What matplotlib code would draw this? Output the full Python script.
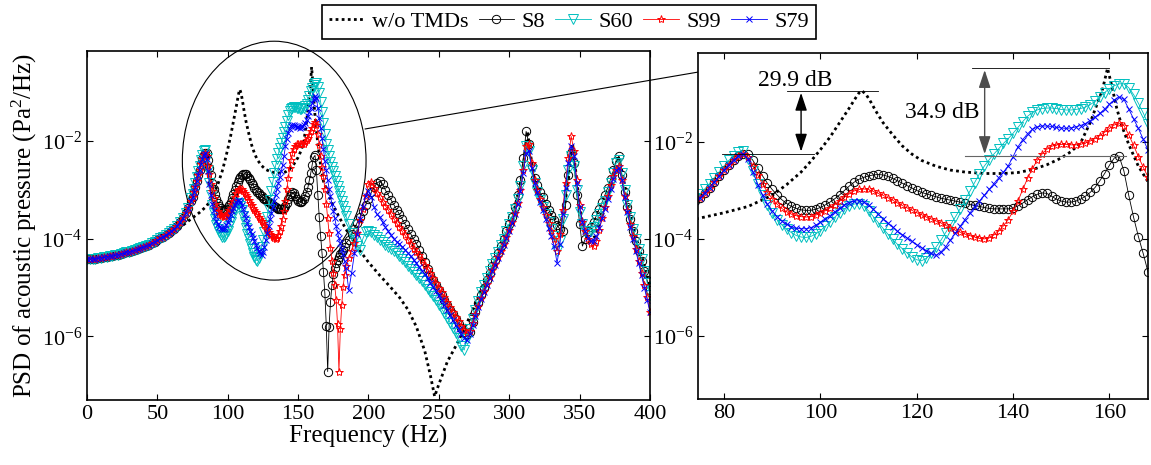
# PSD of acoustic pressure: full band (left) and zoom 75-168 Hz (right)
import numpy as np
import matplotlib.pyplot as plt
from matplotlib.patches import Ellipse
from matplotlib.ticker import NullLocator

plt.rcParams['font.family'] = ['Liberation Serif', 'DejaVu Serif']
plt.rcParams['mathtext.fontset'] = 'custom'
plt.rcParams['mathtext.rm'] = 'Liberation Serif'
plt.rcParams['mathtext.it'] = 'Liberation Serif:italic'

# frequency grid (Hz): coarse below 74 Hz, 1 Hz around the TMD band, 2 Hz above
freq = np.concatenate([np.arange(0, 74, 2), np.arange(74, 185), np.arange(186, 401, 2)])

# log10 of PSD
low_band = [-4.42, -4.42, -4.41, -4.41, -4.40, -4.39, -4.38, -4.37, -4.36, -4.35,
            -4.34, -4.33, -4.31, -4.30, -4.28, -4.27, -4.25, -4.23, -4.21, -4.19,
            -4.17, -4.15, -4.12, -4.09, -4.06, -4.03, -3.99, -3.96, -3.92, -3.88,
            -3.84, -3.79, -3.73, -3.66, -3.58, -3.48, -3.36]

s8_mid = [-3.22, -3.15, -3.05, -2.94, -2.82, -2.70, -2.58, -2.47, -2.37, -2.29,
          -2.24, -2.25, -2.38, -2.54, -2.70, -2.85, -2.98, -3.09, -3.19, -3.27,
          -3.33, -3.37, -3.40, -3.41, -3.41, -3.39, -3.35, -3.30, -3.24, -3.17,
          -3.09, -3.00, -2.91, -2.83, -2.77, -2.73, -2.70, -2.68, -2.67, -2.68,
          -2.71, -2.75, -2.80, -2.85, -2.90, -2.95, -3.00, -3.04, -3.07, -3.10,
          -3.13, -3.16, -3.18, -3.20, -3.22, -3.24, -3.26, -3.29, -3.31, -3.33,
          -3.35, -3.37, -3.38, -3.38, -3.38, -3.38, -3.36, -3.32, -3.26, -3.19,
          -3.13, -3.08, -3.05, -3.06, -3.12, -3.18, -3.22, -3.24, -3.24, -3.22,
          -3.18, -3.12, -3.04, -2.94, -2.80, -2.65, -2.48, -2.33, -2.29, -2.60,
          -3.10, -3.55, -3.95, -4.30, -4.68, -5.12, -5.78, -6.72, -5.80, -5.30,
          -4.95, -4.73, -4.60, -4.50, -4.43, -4.37, -4.32, -4.27, -4.22, -4.16,
          -4.09]
s8_high = [-4.02, -3.90, -3.79, -3.67, -3.55, -3.43, -3.30, -3.18, -3.05, -2.94,
           -2.86, -2.82, -2.88, -3.00, -3.10, -3.20, -3.30, -3.40, -3.50, -3.60,
           -3.70, -3.80, -3.90, -4.00, -4.10, -4.22, -4.35, -4.48, -4.62, -4.75,
           -4.85, -4.95, -5.05, -5.15, -5.25, -5.35, -5.45, -5.55, -5.65, -5.74,
           -5.82, -5.90, -5.96, -5.90, -5.70, -5.50, -5.32, -5.15, -5.00, -4.85,
           -4.70, -4.56, -4.44, -4.30, -4.15, -4.00, -3.85, -3.70, -3.55, -3.35,
           -3.10, -2.80, -2.35, -1.80, -2.05, -2.50, -2.75, -2.90, -3.05, -3.15,
           -3.28, -3.40, -3.52, -3.62, -3.72, -3.80, -3.85, -3.30, -2.70, -2.25,
           -2.45, -3.10, -3.70, -4.15, -4.00, -3.85, -3.75, -3.65, -3.52, -3.38,
           -3.25, -3.10, -2.95, -2.78, -2.60, -2.40, -2.30, -2.70, -3.05, -3.35,
           -3.60, -3.85, -4.05, -4.25, -4.45, -4.65, -4.85, -5.05]

s60_mid = [-3.16, -3.08, -2.97, -2.86, -2.74, -2.62, -2.50, -2.38, -2.28, -2.20,
           -2.19, -2.35, -2.60, -2.86, -3.10, -3.30, -3.47, -3.60, -3.71, -3.80,
           -3.87, -3.93, -3.96, -3.97, -3.95, -3.90, -3.83, -3.74, -3.65, -3.55,
           -3.46, -3.38, -3.32, -3.28, -3.27, -3.32, -3.42, -3.54, -3.66, -3.78,
           -3.90, -4.01, -4.11, -4.20, -4.29, -4.37, -4.43, -4.45, -4.40, -4.30,
           -4.17, -4.03, -3.87, -3.71, -3.55, -3.38, -3.20, -3.02, -2.84, -2.66,
           -2.50, -2.37, -2.25, -2.14, -2.03, -1.93, -1.82, -1.70, -1.58, -1.47,
           -1.39, -1.34, -1.31, -1.30, -1.30, -1.31, -1.33, -1.34, -1.34, -1.33,
           -1.31, -1.28, -1.23, -1.16, -1.07, -0.98, -0.90, -0.84, -0.80, -0.80,
           -0.88, -1.02, -1.20, -1.40, -1.62, -1.85, -2.06, -2.18, -2.30, -2.42,
           -2.52, -2.61, -2.71, -2.81, -2.91, -3.02, -3.12, -3.22, -3.33, -3.44,
           -3.54]
s60_high = [-3.70, -3.88, -4.02, -4.15, -4.22, -4.00, -3.86, -3.84, -3.87, -3.92,
            -3.97, -4.02, -4.07, -4.12, -4.17, -4.21, -4.25, -4.30, -4.36, -4.42,
            -4.48, -4.55, -4.62, -4.69, -4.75, -4.81, -4.87, -4.94, -5.02, -5.10,
            -5.18, -5.26, -5.35, -5.44, -5.53, -5.62, -5.72, -5.82, -5.93, -6.04,
            -6.20, -6.28, -6.05, -5.85, -5.65, -5.45, -5.27, -5.10, -4.95, -4.80,
            -4.66, -4.52, -4.40, -4.27, -4.13, -4.00, -3.85, -3.70, -3.55, -3.38,
            -3.18, -2.92, -2.50, -2.10, -2.20, -2.60, -2.85, -3.05, -3.20, -3.35,
            -3.50, -3.65, -3.80, -3.95, -4.25, -4.05, -3.60, -3.10, -2.60, -2.30,
            -2.50, -3.00, -3.45, -3.70, -3.85, -3.90, -3.85, -3.75, -3.62, -3.50,
            -3.37, -3.22, -3.05, -2.85, -2.65, -2.45, -2.38, -2.65, -3.00, -3.30,
            -3.55, -3.80, -4.00, -4.20, -4.42, -4.65, -4.90, -5.15]

s99_mid = [-3.22, -3.15, -3.05, -2.94, -2.82, -2.70, -2.58, -2.47, -2.37, -2.29,
           -2.24, -2.31, -2.50, -2.68, -2.87, -3.03, -3.17, -3.28, -3.37, -3.44,
           -3.49, -3.52, -3.54, -3.55, -3.54, -3.51, -3.47, -3.42, -3.36, -3.29,
           -3.22, -3.14, -3.07, -3.01, -2.98, -2.97, -2.98, -3.02, -3.06, -3.10,
           -3.15, -3.20, -3.26, -3.31, -3.36, -3.41, -3.46, -3.50, -3.55, -3.59,
           -3.63, -3.67, -3.72, -3.77, -3.82, -3.86, -3.90, -3.93, -3.96, -3.99,
           -4.00, -3.98, -3.92, -3.84, -3.73, -3.60, -3.43, -3.22, -2.98, -2.75,
           -2.55, -2.38, -2.25, -2.15, -2.09, -2.06, -2.05, -2.05, -2.06, -2.06,
           -2.05, -2.02, -1.98, -1.93, -1.87, -1.80, -1.72, -1.65, -1.61, -1.66,
           -1.85, -2.07, -2.30, -2.52, -2.72, -2.98, -3.28, -3.58, -3.88, -4.18,
           -4.45, -4.70, -4.95, -5.25, -5.75, -6.72, -5.85, -5.35, -4.98, -4.74,
           -4.56]
s99_high = [-4.40, -4.25, -4.08, -3.88, -3.62, -3.38, -3.12, -2.88, -2.83, -2.95,
            -3.07, -3.15, -3.24, -3.32, -3.41, -3.50, -3.59, -3.68, -3.76, -3.85,
            -3.93, -4.02, -4.11, -4.20, -4.27, -4.34, -4.43, -4.53, -4.62, -4.70,
            -4.80, -4.90, -5.00, -5.10, -5.20, -5.30, -5.40, -5.50, -5.60, -5.69,
            -5.78, -5.86, -5.93, -5.88, -5.72, -5.55, -5.38, -5.22, -5.07, -4.92,
            -4.78, -4.64, -4.51, -4.38, -4.24, -4.10, -3.96, -3.82, -3.66, -3.48,
            -3.26, -3.00, -2.60, -2.10, -2.05, -2.45, -2.80, -3.00, -3.18, -3.35,
            -3.52, -3.68, -3.85, -4.00, -4.25, -3.90, -3.40, -2.85, -2.35, -1.90,
            -2.20, -2.80, -3.30, -3.65, -3.85, -4.00, -4.10, -4.15, -4.05, -3.82,
            -3.58, -3.35, -3.12, -2.90, -2.72, -2.58, -2.50, -2.80, -3.12, -3.42,
            -3.70, -3.95, -4.20, -4.45, -4.70, -4.95, -5.20, -5.50]

s79_mid = [-3.22, -3.15, -3.05, -2.94, -2.82, -2.70, -2.58, -2.47, -2.37, -2.29,
           -2.24, -2.36, -2.62, -2.88, -3.10, -3.28, -3.42, -3.54, -3.63, -3.70,
           -3.75, -3.78, -3.79, -3.79, -3.77, -3.72, -3.66, -3.59, -3.52, -3.44,
           -3.37, -3.30, -3.25, -3.22, -3.21, -3.24, -3.30, -3.39, -3.49, -3.58,
           -3.67, -3.76, -3.84, -3.91, -3.98, -4.05, -4.12, -4.18, -4.24, -4.30,
           -4.34, -4.27, -4.16, -4.02, -3.88, -3.74, -3.60, -3.47, -3.34, -3.22,
           -3.10, -2.98, -2.86, -2.74, -2.62, -2.49, -2.30, -2.10, -1.95, -1.83,
           -1.74, -1.69, -1.67, -1.67, -1.68, -1.70, -1.71, -1.72, -1.71, -1.69,
           -1.66, -1.62, -1.56, -1.49, -1.41, -1.32, -1.22, -1.13, -1.07, -1.12,
           -1.32, -1.52, -1.72, -1.94, -2.17, -2.40, -2.60, -2.80, -2.97, -3.13,
           -3.28, -3.43, -3.58, -3.73, -3.87, -3.98, -4.09, -4.20, -4.32, -4.45,
           -4.60]
s79_high = [-5.05, -4.70, -4.30, -3.90, -3.60, -3.35, -3.12, -3.02, -3.15, -3.35,
            -3.50, -3.56, -3.66, -3.76, -3.85, -3.93, -4.00, -4.06, -4.10, -4.16,
            -4.22, -4.29, -4.36, -4.43, -4.50, -4.57, -4.65, -4.73, -4.81, -4.90,
            -4.98, -5.07, -5.16, -5.26, -5.36, -5.46, -5.56, -5.66, -5.76, -5.85,
            -5.95, -6.03, -6.08, -5.95, -5.77, -5.58, -5.40, -5.24, -5.09, -4.94,
            -4.80, -4.66, -4.53, -4.40, -4.26, -4.12, -3.98, -3.84, -3.68, -3.50,
            -3.28, -3.02, -2.65, -2.25, -2.20, -2.55, -2.85, -3.05, -3.25, -3.42,
            -3.60, -3.78, -3.95, -4.15, -4.50, -4.10, -3.50, -2.95, -2.45, -2.10,
            -2.30, -2.85, -3.35, -3.65, -3.85, -3.98, -4.05, -4.05, -3.95, -3.78,
            -3.58, -3.38, -3.18, -2.98, -2.78, -2.60, -2.55, -2.80, -3.15, -3.45,
            -3.75, -4.00, -4.25, -4.50, -4.75, -5.00, -5.25, -5.50]

# w/o TMDs: own grid (dotted line, no markers)
wo_freq = [0, 10, 20, 30, 40, 50, 55, 60, 65, 70, 75, 80, 85, 90, 93, 96, 98, 100,
           102, 104, 106, 107, 108, 108.6, 109.5, 110.5, 111.5, 113, 115, 117, 119,
           121, 124, 127, 130, 134, 138, 141, 144, 147, 150, 152, 154, 156, 157.5,
           158.5, 159.6, 160.5, 161.5, 162.5, 164, 166, 168, 171, 175, 180, 185,
           192, 200, 208, 215, 222, 228, 234, 240, 244, 247, 250, 253, 256, 262,
           268, 275, 280, 285, 291, 296, 300, 304, 308, 311, 313, 315, 318, 322,
           327, 332, 336, 339, 342, 344, 345, 347, 350, 353, 357, 361, 366, 371,
           375, 377.5, 380, 384, 390, 395, 400]
wo_log = [-4.42, -4.39, -4.34, -4.27, -4.18, -4.06, -3.98, -3.89, -3.79, -3.68,
          -3.57, -3.46, -3.33, -3.10, -2.88, -2.62, -2.40, -2.16, -1.90, -1.60,
          -1.30, -1.14, -0.99, -0.94, -1.02, -1.18, -1.36, -1.60, -1.85, -2.08,
          -2.25, -2.38, -2.50, -2.58, -2.62, -2.65, -2.65, -2.63, -2.57, -2.47,
          -2.33, -2.20, -2.02, -1.60, -1.20, -0.94, -0.48, -0.85, -1.30, -1.65,
          -2.05, -2.50, -2.82, -3.05, -3.33, -3.60, -3.85, -4.17, -4.48, -4.75,
          -4.97, -5.20, -5.45, -5.80, -6.30, -6.80, -7.23, -6.98, -6.75, -6.52,
          -6.20, -5.85, -5.40, -5.05, -4.75, -4.42, -4.08, -3.80, -3.35, -2.85,
          -2.30, -1.80, -2.25, -2.80, -3.25, -3.42, -3.58, -3.70, -3.40, -2.80,
          -2.25, -2.05, -2.55, -3.30, -3.85, -4.05, -3.95, -3.55, -3.05, -2.60,
          -2.32, -2.60, -3.20, -3.95, -4.45, -5.00]

wo = 10 ** np.array(wo_log)
s8 = 10 ** np.array(low_band + s8_mid + s8_high)
s60 = 10 ** np.array(low_band + s60_mid + s60_high)
s99 = 10 ** np.array(low_band + s99_mid + s99_high)
s79 = 10 ** np.array(low_band + s79_mid + s79_high)

series = [('S8', s8, 'k', 'o', 6.0),
          ('S60', s60, (0.0, 0.75, 0.75), 'v', 7.5),
          ('S99', s99, 'r', '*', 6.0),
          ('S79', s79, 'b', 'x', 4.5)]

fig = plt.figure(figsize=(11.51, 4.65), dpi=100)
ax1 = fig.add_axes([0.0756, 0.140, 0.4891, 0.750])
ax2 = fig.add_axes([0.6064, 0.142, 0.3910, 0.745])

handles = []
for ax in (ax1, ax2):
    h0, = ax.plot(wo_freq, wo, color='k', lw=2.0, ls=(0, (1, 1.2)), label='w/o TMDs')
    hs = [h0]
    for name, y, c, m, ms in series:
        h, = ax.plot(freq, y, color=c, lw=0.6, marker=m, ms=ms, mfc='none',
                     mec=c, mew=0.7, label=name)
        hs.append(h)
    if not handles:
        handles = hs
    ax.set_yscale('log')
    ax.set_ylim(5e-8, 0.7)
    ax.set_yticks([1e-6, 1e-4, 1e-2])
    ax.yaxis.set_minor_locator(NullLocator())
    ax.tick_params(direction='in', top=True, right=True, length=4, width=0.8,
                   labelsize=16)
    for sp in ax.spines.values():
        sp.set_linewidth(1.2)

ax1.set_xlim(0, 400)
ax1.set_xticks(np.arange(0, 401, 50))
ax1.set_xlabel('Frequency (Hz)', fontsize=18, labelpad=1)
ax1.set_ylabel('PSD of acoustic pressure (Pa$^{2}$/Hz)', fontsize=18, labelpad=2)

ax2.set_xlim(74.6, 168)
ax2.set_xticks([80, 100, 120, 140, 160])

# ellipse marking the zoomed band and the pointer to the right panel
ax1.add_patch(Ellipse((0.3325, 0.686), 0.3263, 0.685, transform=ax1.transAxes,
                      fill=False, lw=0.8, color='k', clip_on=False))
ax1.annotate('', xy=(0.6221, 0.8516), xycoords='figure fraction',
             xytext=(0.3171, 0.7226), textcoords='figure fraction',
             arrowprops=dict(arrowstyle='-|>', color='k', lw=0.8,
                             mutation_scale=22, shrinkA=0, shrinkB=0),
             annotation_clip=False)

# peak reductions
wo_f = np.array(wo_freq)
wo_p1 = wo[(wo_f > 100) & (wo_f < 120)].max()
wo_p2 = wo[(wo_f > 150) & (wo_f < 165)].max()
s8_p1 = s8[(freq > 78) & (freq < 90)].max()
s8_p2 = s8[(freq > 150) & (freq < 168)].max()

arr = dict(arrowstyle='<|-|>,head_length=0.6,head_width=0.2', color='k', lw=1.0,
           mutation_scale=18, shrinkA=0, shrinkB=0)
ax2.plot([93, 112], [wo_p1, wo_p1], color='k', lw=0.6)
ax2.plot([79.6, 98.6], [s8_p1, s8_p1], color='k', lw=0.6)
ax2.annotate('', xy=(96, wo_p1 * 0.9), xytext=(96, s8_p1 * 1.1), arrowprops=arr)
ax2.text(94.7, 10 ** -0.73, '29.9 dB', ha='center', va='center', fontsize=17)

ax2.plot([131.4, 160], [wo_p2, wo_p2], color='k', lw=0.6)
ax2.plot([130.1, 163.5], [s8_p2, s8_p2], color='0.4', lw=0.8)
arr2 = dict(arr, color='0.3')
ax2.annotate('', xy=(134.1, wo_p2 * 0.92), xytext=(134.1, s8_p2 * 1.1), arrowprops=arr2)
ax2.text(125.4, 10 ** -1.39, '34.9 dB', ha='center', va='center', fontsize=17)

leg = fig.legend(handles, [h.get_label() for h in handles], loc='upper center',
                 bbox_to_anchor=(0.4944, 0.99), ncol=5, fontsize=16, numpoints=1,
                 frameon=True, fancybox=False, edgecolor='k', framealpha=1,
                 handlelength=1.6, handletextpad=0.35, columnspacing=0.45,
                 borderpad=0.3, borderaxespad=0)
leg.get_frame().set_linewidth(1.2)

fig.savefig('out.png', dpi=100)
